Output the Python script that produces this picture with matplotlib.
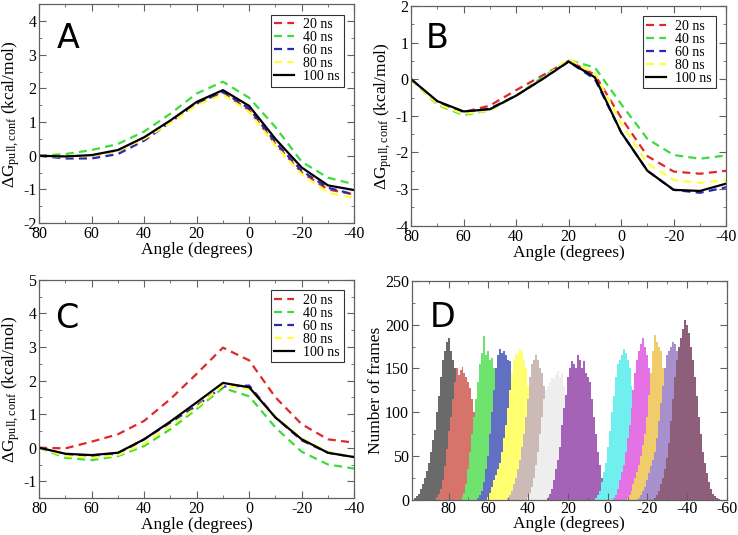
import matplotlib
matplotlib.use("Agg")
import matplotlib.pyplot as plt
from matplotlib.ticker import MultipleLocator

# ---------------- data ----------------
angles = [80, 70, 60, 50, 40, 30, 20, 10, 0, -10, -20, -30, -40]
series_labels = ["20 ns", "40 ns", "60 ns", "80 ns", "100 ns"]

A_20 = [0, -0.03, 0.0, 0.15, 0.5, 1.0, 1.55, 1.88, 1.35, 0.35, -0.5, -1.0, -1.15]
A_40 = [0, 0.05, 0.17, 0.35, 0.72, 1.25, 1.85, 2.2, 1.72, 0.85, -0.18, -0.65, -0.85]
A_60 = [0, -0.08, -0.08, 0.05, 0.45, 1.0, 1.55, 1.9, 1.4, 0.4, -0.45, -0.95, -1.15]
A_80 = [0, -0.03, 0.0, 0.15, 0.5, 0.98, 1.5, 1.82, 1.3, 0.3, -0.55, -1.1, -1.25]
A_100 = [0, -0.02, 0.02, 0.17, 0.55, 1.05, 1.6, 1.95, 1.48, 0.5, -0.35, -0.88, -1.02]

B_20 = [0, -0.65, -0.9, -0.72, -0.3, 0.1, 0.5, 0.12, -1.05, -2.1, -2.52, -2.58, -2.5]
B_40 = [0, -0.7, -0.98, -0.85, -0.45, 0.05, 0.52, 0.32, -0.68, -1.63, -2.07, -2.17, -2.08]
B_60 = [0, -0.62, -0.9, -0.8, -0.45, 0.0, 0.48, 0.0, -1.45, -2.5, -3.02, -3.1, -2.95]
B_80 = [0, -0.68, -0.95, -0.85, -0.45, 0.0, 0.55, 0.15, -1.2, -2.3, -2.75, -2.83, -2.75]
B_100 = [0, -0.6, -0.88, -0.82, -0.45, 0.0, 0.48, 0.05, -1.45, -2.5, -3.02, -3.05, -2.85]

C_20 = [0, -0.02, 0.18, 0.4, 0.8, 1.45, 2.2, 2.98, 2.6, 1.5, 0.7, 0.25, 0.15]
C_40 = [0, -0.3, -0.37, -0.25, 0.05, 0.55, 1.15, 1.78, 1.53, 0.6, -0.12, -0.5, -0.62]
C_60 = [0, -0.2, -0.25, -0.18, 0.25, 0.75, 1.25, 1.82, 1.85, 0.9, 0.22, -0.15, -0.28]
C_80 = [0, -0.25, -0.3, -0.22, 0.12, 0.65, 1.2, 1.85, 1.75, 0.92, 0.28, -0.12, -0.28]
C_100 = [0, -0.18, -0.22, -0.15, 0.25, 0.78, 1.35, 1.93, 1.8, 0.9, 0.25, -0.15, -0.28]

# Panel D histograms: first bin angle (degrees) and counts for successive 1-degree bins going down in angle
hist_starts = [97, 86, 73, 65, 60, 50, 40, 30, 6, -3, -10, -16, -24]
hist_counts = [
    [2, 4, 7, 12, 18, 25, 33, 42, 55, 68, 80, 100, 118, 140, 160, 170, 180, 185, 170, 160, 150,
     140, 128, 110, 95, 75, 55, 40, 25, 15, 8, 3],
    [3, 6, 12, 22, 38, 58, 78, 95, 115, 135, 150, 142, 148, 152, 145, 140, 135, 128, 115, 100,
     80, 60, 42, 28, 16, 8, 3],
    [3, 8, 18, 35, 55, 75, 95, 115, 135, 155, 168, 187, 165, 170, 160, 162, 150, 130, 105, 80,
     55, 32, 15, 5],
    [2, 5, 10, 20, 35, 50, 75, 100, 125, 150, 165, 172, 168, 170, 165, 160, 158, 140, 115, 90,
     65, 40, 22, 10, 4],
    [3, 8, 15, 22, 28, 35, 42, 55, 70, 85, 105, 125, 145, 160, 168, 165, 172, 170, 160, 150,
     130, 105, 80, 55, 32, 15, 6, 2],
    [2, 5, 10, 18, 25, 35, 45, 60, 75, 95, 115, 140, 155, 160, 165, 160, 150, 145, 130, 110,
     85, 60, 40, 22, 10, 4],
    [3, 8, 15, 25, 40, 55, 75, 95, 115, 125, 130, 135, 140, 138, 142, 147, 140, 145, 130, 110,
     85, 60, 40, 22, 10, 4],
    [2, 6, 12, 22, 35, 45, 60, 85, 105, 120, 140, 150, 158, 155, 150, 165, 160, 150, 158, 145,
     140, 135, 115, 95, 75, 55, 40, 25, 12, 5, 2],
    [2, 5, 10, 20, 32, 42, 60, 78, 100, 118, 140, 155, 160, 165, 172, 168, 160, 150, 130, 105,
     80, 55, 32, 15, 6, 2],
    [2, 5, 12, 22, 32, 40, 55, 70, 85, 105, 125, 145, 160, 170, 178, 185, 175, 165, 150, 125,
     100, 75, 50, 30, 15, 6, 2],
    [2, 5, 10, 18, 25, 32, 40, 50, 62, 75, 95, 120, 145, 170, 188, 180, 175, 170, 150, 125,
     100, 75, 50, 30, 15, 6, 2],
    [2, 5, 10, 15, 22, 30, 38, 45, 55, 70, 90, 110, 130, 150, 165, 170, 175, 180, 178, 170,
     150, 125, 100, 75, 50, 30, 15, 6, 2],
    [2, 5, 10, 18, 25, 35, 48, 65, 90, 115, 140, 160, 175, 185, 195, 205, 200, 190, 175, 160,
     140, 118, 95, 75, 55, 42, 30, 20, 12, 7, 4, 2, 1],
]
hist_colors = ["#6a6a6a", "#d6746c", "#6ee46e", "#6270c4", "#ffff70", "#cbbab5", "#eeeeee",
               "#a563b8", "#6ff0ee", "#e472e4", "#f0cc6a", "#a890cc", "#8e5f7a"]

line_colors = ["#e02828", "#3cdc3c", "#2828b4", "#ffff3c", "#000000"]

# ---------------- figure ----------------
plt.rcParams["font.family"] = ["Liberation Serif", "DejaVu Serif"]
plt.rcParams["mathtext.fontset"] = "custom"
plt.rcParams["mathtext.rm"] = "Liberation Serif"
plt.rcParams["mathtext.it"] = "Liberation Serif"
plt.rcParams["axes.unicode_minus"] = False

fig = plt.figure(figsize=(7.38, 5.35), dpi=100)

boxes = {
    "A": [0.053, 0.583, 0.427, 0.409],
    "B": [0.557, 0.578, 0.427, 0.411],
    "C": [0.053, 0.069, 0.427, 0.408],
    "D": [0.558, 0.066, 0.427, 0.409],
}
letter_pos = {"A": (0.057, 0.80), "B": (0.048, 0.81), "C": (0.050, 0.78), "D": (0.057, 0.787)}

frame_col = "#606060"
TICK_FS = 11.5
LABEL_FS = 12.5


def style_axes(ax):
    for s in ax.spines.values():
        s.set_color(frame_col)
        s.set_linewidth(0.9)
    ax.tick_params(which="both", direction="in", top=True, right=True,
                   colors=frame_col, labelcolor="black", labelsize=TICK_FS, pad=2)
    ax.tick_params(which="major", length=5)
    ax.tick_params(which="minor", length=2.5)


def add_letter(ax, key):
    x, y = letter_pos[key]
    ax.text(x, y, key, transform=ax.transAxes, fontsize=24, va="baseline", ha="left",
            family=["DejaVu Sans"])


ylabel = r"$\Delta$G$_{\mathrm{pull,conf}}$ (kcal/mol)"


def line_panel(key, data, ylim, yticks):
    ax = fig.add_axes(boxes[key])
    for i, (vals, lab) in enumerate(zip(data, series_labels)):
        if i < 4:
            ax.plot(angles, vals, color=line_colors[i], lw=1.6, ls=(0, (3.6, 2.4)), label=lab)
        else:
            ax.plot(angles, vals, color=line_colors[i], lw=1.6, label=lab)
    ax.set_xlim(80, -40)
    ax.set_ylim(*ylim)
    ax.set_xticks([80, 60, 40, 20, 0, -20, -40])
    ax.xaxis.set_minor_locator(MultipleLocator(10))
    ax.set_yticks(yticks)
    ax.yaxis.set_minor_locator(MultipleLocator(0.5))
    style_axes(ax)
    ax.set_xlabel("Angle (degrees)", fontsize=LABEL_FS, labelpad=0)
    ax.set_ylabel(ylabel, fontsize=LABEL_FS, labelpad=1)
    leg = ax.legend(loc="upper right", bbox_to_anchor=(0.975, 0.965), fontsize=10,
                    frameon=True, fancybox=False, handlelength=1.4, handletextpad=0.7,
                    borderpad=0.25, labelspacing=0.0, borderaxespad=0.2)
    leg.get_frame().set_edgecolor("black")
    leg.get_frame().set_linewidth(0.8)
    add_letter(ax, key)
    return ax


line_panel("A", [A_20, A_40, A_60, A_80, A_100], (-2, 4.5), [-2, -1, 0, 1, 2, 3, 4])
line_panel("B", [B_20, B_40, B_60, B_80, B_100], (-4, 2), [-4, -3, -2, -1, 0, 1, 2])
line_panel("C", [C_20, C_40, C_60, C_80, C_100], (-1.5, 5), [-1, 0, 1, 2, 3, 4, 5])

# Panel D
axd = fig.add_axes(boxes["D"])
for start, counts, col in zip(hist_starts, hist_counts, hist_colors):
    xs = [start - k for k in range(len(counts))]
    axd.bar(xs, counts, width=1.0, color=col, linewidth=0)
axd.set_xlim(98.5, -60)
axd.set_ylim(0, 250)
axd.set_xticks([80, 60, 40, 20, 0, -20, -40, -60])
axd.xaxis.set_minor_locator(MultipleLocator(10))
axd.set_yticks([0, 50, 100, 150, 200, 250])
axd.yaxis.set_minor_locator(MultipleLocator(25))
style_axes(axd)
axd.tick_params(axis="x", which="both", pad=1)
axd.set_xlabel("Angle (degrees)", fontsize=LABEL_FS, labelpad=-0.5)
axd.set_ylabel("Number of frames", fontsize=LABEL_FS, labelpad=1)
add_letter(axd, "D")

fig.savefig("out.png", dpi=100)
